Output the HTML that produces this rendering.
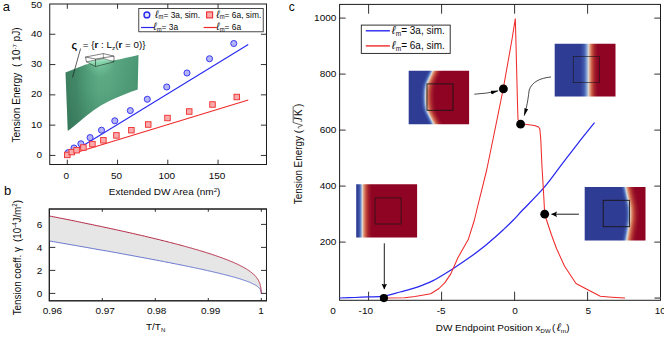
<!DOCTYPE html>
<html><head><meta charset="utf-8"><title>Figure</title>
<style>html,body{margin:0;padding:0;background:#fff;}body{width:664px;height:339px;overflow:hidden;font-family:"Liberation Sans",sans-serif;}svg{display:block;}</style>
</head><body>
<svg width="664" height="339" viewBox="0 0 664 339" font-family="Liberation Sans, sans-serif"><defs>
<linearGradient id="gsurf" gradientUnits="userSpaceOnUse" x1="65" y1="0" x2="139" y2="0">
<stop offset="0" stop-color="#3b7f5f"/>
<stop offset="0.15" stop-color="#448b6a"/>
<stop offset="0.3" stop-color="#52a07b"/>
<stop offset="0.45" stop-color="#5fae88"/>
<stop offset="0.6" stop-color="#5eac86"/>
<stop offset="0.8" stop-color="#54a17d"/>
<stop offset="1" stop-color="#4b9874"/>
</linearGradient>
<linearGradient id="gsurf2" gradientUnits="userSpaceOnUse" x1="0" y1="55" x2="0" y2="131">
<stop offset="0" stop-color="#2c6a4e" stop-opacity="0"/>
<stop offset="0.45" stop-color="#2c6a4e" stop-opacity="0.1"/>
<stop offset="1" stop-color="#2c6a4e" stop-opacity="0.45"/>
</linearGradient>
<radialGradient id="ghl" gradientUnits="userSpaceOnUse" cx="100" cy="62" r="15">
<stop offset="0" stop-color="#8fe0b6" stop-opacity="0.9"/>
<stop offset="0.4" stop-color="#7fd0a6" stop-opacity="0.45"/>
<stop offset="1" stop-color="#7fd0a6" stop-opacity="0"/>
</radialGradient>
</defs>
<path d="M65.5,72.5 L85.8,64.4 C95,62.6 105,61.6 114.3,60.3 C122,59 130,56.8 138.5,55 L137.7,89.5 C128,92.5 118,97 108.7,101.2 C98,106.5 88,114 79.5,121.5 C75,125.5 71,128.5 67.8,130.8 Z" fill="url(#gsurf)"/>
<path d="M65.5,72.5 L85.8,64.4 C95,62.6 105,61.6 114.3,60.3 C122,59 130,56.8 138.5,55 L137.7,89.5 C128,92.5 118,97 108.7,101.2 C98,106.5 88,114 79.5,121.5 C75,125.5 71,128.5 67.8,130.8 Z" fill="url(#gsurf2)"/>
<path d="M65.5,72.5 L85.8,64.4 C95,62.6 105,61.6 114.3,60.3 C122,59 130,56.8 138.5,55 L137.7,89.5 C128,92.5 118,97 108.7,101.2 C98,106.5 88,114 79.5,121.5 C75,125.5 71,128.5 67.8,130.8 Z" fill="url(#ghl)"/>
<path d="M86.4,61.8 L95.5,66.5 L114,61.8 L103.4,58.6 Z" fill="#84d4aa" fill-opacity="0.8"/>
<g fill="none" stroke="#1a1a1a" stroke-width="0.55"><path d="M85.5,57 L103.4,53.6 L114,56.1 L95.5,59 Z"/><path d="M85.5,57 L86.4,61.8 L95.5,66.5 L114,61.8 L114,56.1 M95.5,59 L95.5,66.5"/><path d="M103.4,53.6 L103.4,58.4 L86.4,61.8 M103.4,58.4 L114,61.8" stroke-width="0.4"/></g>
<path d="M80.6,48.5 L72.5,77.4" stroke="#1a1a1a" stroke-width="0.7" fill="none"/>
<text transform="translate(71.60 49.20) scale(1 0.92)" font-size="11" text-anchor="start" fill="#0a0a0a" font-weight="bold">ς</text>
<text transform="translate(82.80 48.20) scale(1 0.92)" font-size="9.8" text-anchor="start" fill="#0a0a0a" >= {<tspan font-weight="bold">r</tspan> : L<tspan font-size="6.5" dy="2">z</tspan><tspan dy="-2">(</tspan><tspan font-weight="bold">r</tspan> = 0)}</text>
<rect x="49.75" y="4.0" width="216.75" height="160.5" fill="none" stroke="#1c1c1c" stroke-width="1"/>
<path d="M49.75,155.45 h5.6 M266.5,155.45 h-5.6" stroke="#1c1c1c" stroke-width="0.9"/>
<path d="M49.75,125.14999999999999 h5.6 M266.5,125.14999999999999 h-5.6" stroke="#1c1c1c" stroke-width="0.9"/>
<path d="M49.75,94.85 h5.6 M266.5,94.85 h-5.6" stroke="#1c1c1c" stroke-width="0.9"/>
<path d="M49.75,64.55 h5.6 M266.5,64.55 h-5.6" stroke="#1c1c1c" stroke-width="0.9"/>
<path d="M49.75,34.25 h5.6 M266.5,34.25 h-5.6" stroke="#1c1c1c" stroke-width="0.9"/>
<text transform="translate(42.00 157.95) scale(1 0.92)" font-size="10" text-anchor="end" fill="#0a0a0a" >0</text>
<text transform="translate(42.00 127.65) scale(1 0.92)" font-size="10" text-anchor="end" fill="#0a0a0a" >10</text>
<text transform="translate(42.00 97.35) scale(1 0.92)" font-size="10" text-anchor="end" fill="#0a0a0a" >20</text>
<text transform="translate(42.00 67.05) scale(1 0.92)" font-size="10" text-anchor="end" fill="#0a0a0a" >30</text>
<text transform="translate(42.00 36.75) scale(1 0.92)" font-size="10" text-anchor="end" fill="#0a0a0a" >40</text>
<text transform="translate(42.00 8.25) scale(1 0.92)" font-size="10" text-anchor="end" fill="#0a0a0a" >50</text>
<path d="M67.3,4.0 v4.8 M67.3,164.5 v-4.8" stroke="#1c1c1c" stroke-width="0.9"/>
<text transform="translate(66.30 178.80) scale(1 0.92)" font-size="10" text-anchor="middle" fill="#0a0a0a" >0</text>
<path d="M117.54999999999998,4.0 v4.8 M117.54999999999998,164.5 v-4.8" stroke="#1c1c1c" stroke-width="0.9"/>
<text transform="translate(116.55 178.80) scale(1 0.92)" font-size="10" text-anchor="middle" fill="#0a0a0a" >50</text>
<path d="M167.79999999999998,4.0 v4.8 M167.79999999999998,164.5 v-4.8" stroke="#1c1c1c" stroke-width="0.9"/>
<text transform="translate(166.80 178.80) scale(1 0.92)" font-size="10" text-anchor="middle" fill="#0a0a0a" >100</text>
<path d="M218.04999999999995,4.0 v4.8 M218.04999999999995,164.5 v-4.8" stroke="#1c1c1c" stroke-width="0.9"/>
<text transform="translate(217.05 178.80) scale(1 0.92)" font-size="10" text-anchor="middle" fill="#0a0a0a" >150</text>
<path d="M67.3,155.2 L248.25,44.5" stroke="#2828f0" stroke-width="1.1" fill="none"/>
<path d="M67.3,155.2 L248.25,100" stroke="#f02a2a" stroke-width="1.1" fill="none"/>
<circle cx="68.3" cy="152.6" r="3.05" fill="#b4b4f6" stroke="#2828f0" stroke-width="0.9"/>
<circle cx="74.0" cy="148.0" r="3.05" fill="#b4b4f6" stroke="#2828f0" stroke-width="0.9"/>
<circle cx="80.9" cy="143.8" r="3.05" fill="#b4b4f6" stroke="#2828f0" stroke-width="0.9"/>
<circle cx="90.1" cy="137.6" r="3.05" fill="#b4b4f6" stroke="#2828f0" stroke-width="0.9"/>
<circle cx="101.5" cy="130.2" r="3.05" fill="#b4b4f6" stroke="#2828f0" stroke-width="0.9"/>
<circle cx="114.8" cy="120.8" r="3.05" fill="#b4b4f6" stroke="#2828f0" stroke-width="0.9"/>
<circle cx="130.3" cy="110.6" r="3.05" fill="#b4b4f6" stroke="#2828f0" stroke-width="0.9"/>
<circle cx="147.3" cy="99.25" r="3.05" fill="#b4b4f6" stroke="#2828f0" stroke-width="0.9"/>
<circle cx="166.75" cy="87" r="3.05" fill="#b4b4f6" stroke="#2828f0" stroke-width="0.9"/>
<circle cx="187" cy="73" r="3.05" fill="#b4b4f6" stroke="#2828f0" stroke-width="0.9"/>
<circle cx="209.5" cy="58.75" r="3.05" fill="#b4b4f6" stroke="#2828f0" stroke-width="0.9"/>
<circle cx="233.75" cy="43.5" r="3.05" fill="#b4b4f6" stroke="#2828f0" stroke-width="0.9"/>
<rect x="64.55" y="152.15" width="5.5" height="5.5" fill="#f9abab" stroke="#f02a2a" stroke-width="0.9"/>
<rect x="68.95" y="149.35" width="5.5" height="5.5" fill="#f9abab" stroke="#f02a2a" stroke-width="0.9"/>
<rect x="73.85" y="147.45" width="5.5" height="5.5" fill="#f9abab" stroke="#f02a2a" stroke-width="0.9"/>
<rect x="80.65" y="144.75" width="5.5" height="5.5" fill="#f9abab" stroke="#f02a2a" stroke-width="0.9"/>
<rect x="89.65" y="141.35" width="5.5" height="5.5" fill="#f9abab" stroke="#f02a2a" stroke-width="0.9"/>
<rect x="100.65" y="137.55" width="5.5" height="5.5" fill="#f9abab" stroke="#f02a2a" stroke-width="0.9"/>
<rect x="113.65" y="132.65" width="5.5" height="5.5" fill="#f9abab" stroke="#f02a2a" stroke-width="0.9"/>
<rect x="128.65" y="127.44999999999999" width="5.5" height="5.5" fill="#f9abab" stroke="#f02a2a" stroke-width="0.9"/>
<rect x="145.5" y="121.75" width="5.5" height="5.5" fill="#f9abab" stroke="#f02a2a" stroke-width="0.9"/>
<rect x="164.75" y="115.25" width="5.5" height="5.5" fill="#f9abab" stroke="#f02a2a" stroke-width="0.9"/>
<rect x="186.5" y="108.75" width="5.5" height="5.5" fill="#f9abab" stroke="#f02a2a" stroke-width="0.9"/>
<rect x="209.75" y="101.75" width="5.5" height="5.5" fill="#f9abab" stroke="#f02a2a" stroke-width="0.9"/>
<rect x="234.0" y="94.25" width="5.5" height="5.5" fill="#f9abab" stroke="#f02a2a" stroke-width="0.9"/>
<rect x="138.8" y="8.4" width="124.4" height="23.4" fill="#fff" stroke="#1c1c1c" stroke-width="0.8"/>
<circle cx="146.9" cy="14.9" r="2.9" fill="#e4e4fb" stroke="#2828f0" stroke-width="1.4"/>
<rect x="206.6" y="11.9" width="6" height="6" fill="#f9abab" stroke="#f02a2a" stroke-width="1.1"/>
<text transform="translate(155.30 17.50) scale(1 1.08)" font-size="8.4" text-anchor="start" fill="#0a0a0a" ><tspan font-style="italic" font-size="10.0">ℓ</tspan><tspan font-size="5.88" dy="1.8">m</tspan><tspan dy="-1.8">= 3a, sim.</tspan></text>
<text transform="translate(216.50 17.50) scale(1 1.08)" font-size="8.4" text-anchor="start" fill="#0a0a0a" ><tspan font-style="italic" font-size="10.0">ℓ</tspan><tspan font-size="5.88" dy="1.8">m</tspan><tspan dy="-1.8">= 6a, sim.</tspan></text>
<path d="M141,27.5 H153.8" stroke="#2828f0" stroke-width="1.2"/>
<path d="M203.6,27.5 H216.6" stroke="#f02a2a" stroke-width="1.2"/>
<text transform="translate(153.50 29.80) scale(1 1.08)" font-size="8.4" text-anchor="start" fill="#0a0a0a" ><tspan font-style="italic" font-size="10.0">ℓ</tspan><tspan font-size="5.88" dy="1.8">m</tspan><tspan dy="-1.8">= 3a</tspan></text>
<text transform="translate(216.50 29.80) scale(1 1.08)" font-size="8.4" text-anchor="start" fill="#0a0a0a" ><tspan font-style="italic" font-size="10.0">ℓ</tspan><tspan font-size="5.88" dy="1.8">m</tspan><tspan dy="-1.8">= 6a</tspan></text>
<text transform="translate(2.80 11.00) scale(1 1)" font-size="13" text-anchor="start" fill="#0a0a0a" >a</text>
<text transform="translate(108.80 195.10) scale(1 0.92)" font-size="10" text-anchor="start" fill="#0a0a0a" >Extended DW Area (nm<tspan font-size="6" dy="-3.5">2</tspan><tspan dy="3.5">)</tspan></text>
<text transform="translate(20.2,142.6) rotate(-90) scale(1 1.04)" font-size="10.15" xml:space="preserve" fill="#0a0a0a">Tension Energy  ( 10<tspan font-size="6" dy="-3.5">-7</tspan><tspan dy="3.5"> pJ)</tspan></text>
<rect x="49.3" y="209.0" width="217.2" height="91.80000000000001" fill="none" stroke="#1c1c1c" stroke-width="1"/>
<path d="M49.3,293.4 h6 M266.5,293.4 h-5.5" stroke="#1c1c1c" stroke-width="0.9"/>
<text transform="translate(42.40 297.20) scale(1 0.92)" font-size="10" text-anchor="end" fill="#0a0a0a" >0</text>
<path d="M49.3,270.4 h6 M266.5,270.4 h-5.5" stroke="#1c1c1c" stroke-width="0.9"/>
<text transform="translate(42.40 274.20) scale(1 0.92)" font-size="10" text-anchor="end" fill="#0a0a0a" >2</text>
<path d="M49.3,247.39999999999998 h6 M266.5,247.39999999999998 h-5.5" stroke="#1c1c1c" stroke-width="0.9"/>
<text transform="translate(42.40 251.20) scale(1 0.92)" font-size="10" text-anchor="end" fill="#0a0a0a" >4</text>
<path d="M49.3,224.39999999999998 h6 M266.5,224.39999999999998 h-5.5" stroke="#1c1c1c" stroke-width="0.9"/>
<text transform="translate(42.40 228.20) scale(1 0.92)" font-size="10" text-anchor="end" fill="#0a0a0a" >6</text>
<text transform="translate(52.40 313.70) scale(1 0.92)" font-size="10" text-anchor="middle" fill="#0a0a0a" >0.96</text>
<path d="M102.29999999999987,209.0 v2.8 M102.29999999999987,300.8 v-2.8" stroke="#1c1c1c" stroke-width="0.9"/>
<text transform="translate(105.10 313.70) scale(1 0.92)" font-size="10" text-anchor="middle" fill="#0a0a0a" >0.97</text>
<path d="M155.2999999999999,209.0 v2.8 M155.2999999999999,300.8 v-2.8" stroke="#1c1c1c" stroke-width="0.9"/>
<text transform="translate(156.70 313.70) scale(1 0.92)" font-size="10" text-anchor="middle" fill="#0a0a0a" >0.98</text>
<path d="M208.29999999999995,209.0 v2.8 M208.29999999999995,300.8 v-2.8" stroke="#1c1c1c" stroke-width="0.9"/>
<text transform="translate(210.70 313.70) scale(1 0.92)" font-size="10" text-anchor="middle" fill="#0a0a0a" >0.99</text>
<path d="M261.3,209.0 v2.8 M261.3,300.8 v-2.8" stroke="#1c1c1c" stroke-width="0.9"/>
<text transform="translate(261.00 313.70) scale(1 0.92)" font-size="10" text-anchor="middle" fill="#0a0a0a" >1</text>
<path d="M49.3,216.0 L51.4,216.4 L53.5,216.8 L55.6,217.2 L57.7,217.6 L59.7,218.0 L61.8,218.4 L63.8,218.8 L65.8,219.2 L67.8,219.6 L69.8,220.0 L71.8,220.4 L73.7,220.8 L75.7,221.2 L77.6,221.6 L79.5,222.0 L81.4,222.4 L83.3,222.8 L85.2,223.2 L87.1,223.6 L88.9,224.0 L90.8,224.3 L92.6,224.7 L94.4,225.1 L96.2,225.5 L98.0,225.9 L99.8,226.2 L101.5,226.6 L103.3,227.0 L105.0,227.4 L106.8,227.7 L108.5,228.1 L110.2,228.5 L111.8,228.8 L113.5,229.2 L115.2,229.5 L116.8,229.9 L118.5,230.3 L120.1,230.6 L121.7,231.0 L123.3,231.3 L124.9,231.7 L126.5,232.0 L128.0,232.4 L129.6,232.7 L131.1,233.1 L132.6,233.4 L134.1,233.8 L135.6,234.1 L137.1,234.5 L138.6,234.8 L140.1,235.1 L141.5,235.5 L143.0,235.8 L144.4,236.1 L145.8,236.5 L147.2,236.8 L148.6,237.1 L150.0,237.5 L151.4,237.8 L152.8,238.1 L154.1,238.5 L155.4,238.8 L156.8,239.1 L158.1,239.4 L159.4,239.7 L160.7,240.1 L162.0,240.4 L163.3,240.7 L164.5,241.0 L165.8,241.3 L167.0,241.6 L168.2,242.0 L169.5,242.3 L170.7,242.6 L171.9,242.9 L173.0,243.2 L174.2,243.5 L175.4,243.8 L176.5,244.1 L177.7,244.4 L178.8,244.7 L180.0,245.0 L181.1,245.3 L182.2,245.6 L183.3,245.9 L184.3,246.2 L185.4,246.5 L186.5,246.8 L187.5,247.1 L188.6,247.4 L189.6,247.7 L190.6,247.9 L191.7,248.2 L192.7,248.5 L193.7,248.8 L194.6,249.1 L195.6,249.4 L196.6,249.6 L197.5,249.9 L198.5,250.2 L199.4,250.5 L200.4,250.8 L201.3,251.0 L202.2,251.3 L203.1,251.6 L204.0,251.9 L204.9,252.1 L205.7,252.4 L206.6,252.7 L207.4,253.0 L208.3,253.2 L209.1,253.5 L210.0,253.8 L210.8,254.0 L211.6,254.3 L212.4,254.6 L213.2,254.8 L214.0,255.1 L214.7,255.3 L215.5,255.6 L216.3,255.9 L217.0,256.1 L217.8,256.4 L218.5,256.6 L219.2,256.9 L219.9,257.1 L220.6,257.4 L221.3,257.6 L222.0,257.9 L222.7,258.2 L223.4,258.4 L224.1,258.7 L224.7,258.9 L225.4,259.2 L226.0,259.4 L226.7,259.6 L227.3,259.9 L227.9,260.1 L228.5,260.4 L229.1,260.6 L229.7,260.9 L230.3,261.1 L230.9,261.4 L231.5,261.6 L232.1,261.8 L232.6,262.1 L233.2,262.3 L233.7,262.5 L234.3,262.8 L234.8,263.0 L235.3,263.3 L235.8,263.5 L236.4,263.7 L236.9,264.0 L237.4,264.2 L237.9,264.4 L238.3,264.7 L238.8,264.9 L239.3,265.1 L239.8,265.4 L240.2,265.6 L240.7,265.8 L241.1,266.0 L241.5,266.3 L242.0,266.5 L242.4,266.7 L242.8,267.0 L243.2,267.2 L243.6,267.4 L244.0,267.6 L244.4,267.9 L244.8,268.1 L245.2,268.3 L245.6,268.5 L246.0,268.7 L246.3,269.0 L246.7,269.2 L247.0,269.4 L247.4,269.6 L247.7,269.9 L248.1,270.1 L248.4,270.3 L248.7,270.5 L249.0,270.7 L249.4,271.0 L249.7,271.2 L250.0,271.4 L250.3,271.6 L250.6,271.8 L250.8,272.0 L251.1,272.3 L251.4,272.5 L251.7,272.7 L251.9,272.9 L252.2,273.1 L252.5,273.3 L252.7,273.6 L253.0,273.8 L253.2,274.0 L253.4,274.2 L253.7,274.4 L253.9,274.6 L254.1,274.9 L254.4,275.1 L254.6,275.3 L254.8,275.5 L255.0,275.7 L255.2,275.9 L255.4,276.2 L255.6,276.4 L255.8,276.6 L255.9,276.8 L256.1,277.0 L256.3,277.2 L256.5,277.5 L256.6,277.7 L256.8,277.9 L257.0,278.1 L257.1,278.3 L257.3,278.5 L257.4,278.8 L257.6,279.0 L257.7,279.2 L257.9,279.4 L258.0,279.6 L258.1,279.9 L258.2,280.1 L258.4,280.3 L258.5,280.5 L258.6,280.7 L258.7,281.0 L258.8,281.2 L258.9,281.4 L259.0,281.6 L259.1,281.9 L259.2,282.1 L259.3,282.3 L259.4,282.5 L259.5,282.8 L259.6,283.0 L259.7,283.2 L259.8,283.4 L259.8,283.7 L259.9,283.9 L260.0,284.1 L260.1,284.4 L260.1,284.6 L260.2,284.8 L260.3,285.1 L260.3,285.3 L260.4,285.5 L260.4,285.8 L260.5,286.0 L260.5,286.2 L260.6,286.5 L260.6,286.7 L260.7,286.9 L260.7,287.2 L260.8,287.4 L260.8,287.6 L260.8,287.9 L260.9,288.1 L260.9,288.3 L260.9,288.6 L261.0,288.8 L261.0,289.0 L261.0,289.3 L261.0,289.5 L261.1,289.7 L261.1,290.0 L261.1,290.2 L261.1,290.4 L261.1,290.6 L261.2,290.8 L261.2,291.1 L261.2,291.3 L261.2,291.5 L261.2,291.7 L261.2,291.8 L261.2,292.0 L261.2,292.2 L261.3,292.4 L261.3,292.5 L261.3,292.7 L261.3,292.8 L261.3,292.9 L261.3,293.0 L261.3,293.1 L261.3,293.2 L261.3,293.2 L261.3,293.2 L261.3,293.3 L261.3,293.3 L261.3,293.3 L261.3,293.3 L261.3,293.3 L261.3,293.4 L261.3,293.4 L261.3,293.4 L261.3,293.4 L261.3,293.4 L261.3,293.4 L261.3,293.4 L261.3,293.4 L261.3,293.4 L261.3,293.4 L261.3,293.3 L261.3,293.3 L261.3,293.3 L261.3,293.3 L261.3,293.3 L261.3,293.3 L261.3,293.2 L261.3,293.2 L261.3,293.1 L261.3,293.1 L261.3,293.0 L261.3,292.9 L261.3,292.8 L261.2,292.8 L261.2,292.7 L261.2,292.6 L261.2,292.5 L261.2,292.4 L261.2,292.3 L261.2,292.2 L261.2,292.1 L261.1,292.0 L261.1,291.9 L261.1,291.8 L261.1,291.7 L261.1,291.6 L261.0,291.5 L261.0,291.4 L261.0,291.3 L261.0,291.2 L260.9,291.1 L260.9,291.0 L260.9,290.9 L260.8,290.8 L260.8,290.6 L260.8,290.5 L260.7,290.4 L260.7,290.3 L260.6,290.2 L260.6,290.1 L260.5,290.0 L260.5,289.9 L260.4,289.8 L260.4,289.7 L260.3,289.6 L260.3,289.5 L260.2,289.4 L260.1,289.2 L260.1,289.1 L260.0,289.0 L259.9,288.9 L259.8,288.8 L259.8,288.7 L259.7,288.6 L259.6,288.5 L259.5,288.4 L259.4,288.3 L259.3,288.2 L259.2,288.1 L259.1,287.9 L259.0,287.8 L258.9,287.7 L258.8,287.6 L258.7,287.5 L258.6,287.4 L258.5,287.3 L258.4,287.2 L258.2,287.1 L258.1,287.0 L258.0,286.9 L257.9,286.8 L257.7,286.6 L257.6,286.5 L257.4,286.4 L257.3,286.3 L257.1,286.2 L257.0,286.1 L256.8,286.0 L256.6,285.9 L256.5,285.8 L256.3,285.6 L256.1,285.5 L255.9,285.4 L255.8,285.3 L255.6,285.2 L255.4,285.1 L255.2,285.0 L255.0,284.8 L254.8,284.7 L254.6,284.6 L254.4,284.5 L254.1,284.4 L253.9,284.3 L253.7,284.1 L253.4,284.0 L253.2,283.9 L253.0,283.8 L252.7,283.7 L252.5,283.6 L252.2,283.4 L251.9,283.3 L251.7,283.2 L251.4,283.1 L251.1,282.9 L250.8,282.8 L250.6,282.7 L250.3,282.6 L250.0,282.5 L249.7,282.3 L249.4,282.2 L249.0,282.1 L248.7,281.9 L248.4,281.8 L248.1,281.7 L247.7,281.6 L247.4,281.4 L247.0,281.3 L246.7,281.2 L246.3,281.0 L246.0,280.9 L245.6,280.8 L245.2,280.6 L244.8,280.5 L244.4,280.4 L244.0,280.2 L243.6,280.1 L243.2,280.0 L242.8,279.8 L242.4,279.7 L242.0,279.6 L241.5,279.4 L241.1,279.3 L240.7,279.1 L240.2,279.0 L239.8,278.8 L239.3,278.7 L238.8,278.6 L238.3,278.4 L237.9,278.3 L237.4,278.1 L236.9,278.0 L236.4,277.8 L235.8,277.7 L235.3,277.5 L234.8,277.4 L234.3,277.2 L233.7,277.1 L233.2,276.9 L232.6,276.8 L232.1,276.6 L231.5,276.5 L230.9,276.3 L230.3,276.1 L229.7,276.0 L229.1,275.8 L228.5,275.7 L227.9,275.5 L227.3,275.3 L226.7,275.2 L226.0,275.0 L225.4,274.8 L224.7,274.7 L224.1,274.5 L223.4,274.3 L222.7,274.2 L222.0,274.0 L221.3,273.8 L220.6,273.7 L219.9,273.5 L219.2,273.3 L218.5,273.1 L217.8,273.0 L217.0,272.8 L216.3,272.6 L215.5,272.4 L214.7,272.3 L214.0,272.1 L213.2,271.9 L212.4,271.7 L211.6,271.5 L210.8,271.3 L210.0,271.1 L209.1,271.0 L208.3,270.8 L207.4,270.6 L206.6,270.4 L205.7,270.2 L204.9,270.0 L204.0,269.8 L203.1,269.6 L202.2,269.4 L201.3,269.2 L200.4,269.0 L199.4,268.8 L198.5,268.6 L197.5,268.4 L196.6,268.2 L195.6,268.0 L194.6,267.8 L193.7,267.6 L192.7,267.4 L191.7,267.2 L190.6,267.0 L189.6,266.7 L188.6,266.5 L187.5,266.3 L186.5,266.1 L185.4,265.9 L184.3,265.7 L183.3,265.4 L182.2,265.2 L181.1,265.0 L180.0,264.8 L178.8,264.5 L177.7,264.3 L176.5,264.1 L175.4,263.9 L174.2,263.6 L173.0,263.4 L171.9,263.2 L170.7,262.9 L169.5,262.7 L168.2,262.4 L167.0,262.2 L165.8,262.0 L164.5,261.7 L163.3,261.5 L162.0,261.2 L160.7,261.0 L159.4,260.7 L158.1,260.5 L156.8,260.2 L155.4,260.0 L154.1,259.7 L152.8,259.5 L151.4,259.2 L150.0,259.0 L148.6,258.7 L147.2,258.4 L145.8,258.2 L144.4,257.9 L143.0,257.6 L141.5,257.4 L140.1,257.1 L138.6,256.8 L137.1,256.5 L135.6,256.3 L134.1,256.0 L132.6,255.7 L131.1,255.4 L129.6,255.2 L128.0,254.9 L126.5,254.6 L124.9,254.3 L123.3,254.0 L121.7,253.7 L120.1,253.4 L118.5,253.1 L116.8,252.8 L115.2,252.5 L113.5,252.2 L111.8,251.9 L110.2,251.6 L108.5,251.3 L106.8,251.0 L105.0,250.7 L103.3,250.4 L101.5,250.1 L99.8,249.8 L98.0,249.5 L96.2,249.2 L94.4,248.8 L92.6,248.5 L90.8,248.2 L88.9,247.9 L87.1,247.5 L85.2,247.2 L83.3,246.9 L81.4,246.5 L79.5,246.2 L77.6,245.9 L75.7,245.5 L73.7,245.2 L71.8,244.9 L69.8,244.5 L67.8,244.2 L65.8,243.8 L63.8,243.5 L61.8,243.1 L59.7,242.8 L57.7,242.4 L55.6,242.0 L53.5,241.7 L51.4,241.3 L49.3,241.0 Z" fill="#e6e6e6"/>
<path d="M49.3,241.0 L51.4,241.3 L53.5,241.7 L55.6,242.0 L57.7,242.4 L59.7,242.8 L61.8,243.1 L63.8,243.5 L65.8,243.8 L67.8,244.2 L69.8,244.5 L71.8,244.9 L73.7,245.2 L75.7,245.5 L77.6,245.9 L79.5,246.2 L81.4,246.5 L83.3,246.9 L85.2,247.2 L87.1,247.5 L88.9,247.9 L90.8,248.2 L92.6,248.5 L94.4,248.8 L96.2,249.2 L98.0,249.5 L99.8,249.8 L101.5,250.1 L103.3,250.4 L105.0,250.7 L106.8,251.0 L108.5,251.3 L110.2,251.6 L111.8,251.9 L113.5,252.2 L115.2,252.5 L116.8,252.8 L118.5,253.1 L120.1,253.4 L121.7,253.7 L123.3,254.0 L124.9,254.3 L126.5,254.6 L128.0,254.9 L129.6,255.2 L131.1,255.4 L132.6,255.7 L134.1,256.0 L135.6,256.3 L137.1,256.5 L138.6,256.8 L140.1,257.1 L141.5,257.4 L143.0,257.6 L144.4,257.9 L145.8,258.2 L147.2,258.4 L148.6,258.7 L150.0,259.0 L151.4,259.2 L152.8,259.5 L154.1,259.7 L155.4,260.0 L156.8,260.2 L158.1,260.5 L159.4,260.7 L160.7,261.0 L162.0,261.2 L163.3,261.5 L164.5,261.7 L165.8,262.0 L167.0,262.2 L168.2,262.4 L169.5,262.7 L170.7,262.9 L171.9,263.2 L173.0,263.4 L174.2,263.6 L175.4,263.9 L176.5,264.1 L177.7,264.3 L178.8,264.5 L180.0,264.8 L181.1,265.0 L182.2,265.2 L183.3,265.4 L184.3,265.7 L185.4,265.9 L186.5,266.1 L187.5,266.3 L188.6,266.5 L189.6,266.7 L190.6,267.0 L191.7,267.2 L192.7,267.4 L193.7,267.6 L194.6,267.8 L195.6,268.0 L196.6,268.2 L197.5,268.4 L198.5,268.6 L199.4,268.8 L200.4,269.0 L201.3,269.2 L202.2,269.4 L203.1,269.6 L204.0,269.8 L204.9,270.0 L205.7,270.2 L206.6,270.4 L207.4,270.6 L208.3,270.8 L209.1,271.0 L210.0,271.1 L210.8,271.3 L211.6,271.5 L212.4,271.7 L213.2,271.9 L214.0,272.1 L214.7,272.3 L215.5,272.4 L216.3,272.6 L217.0,272.8 L217.8,273.0 L218.5,273.1 L219.2,273.3 L219.9,273.5 L220.6,273.7 L221.3,273.8 L222.0,274.0 L222.7,274.2 L223.4,274.3 L224.1,274.5 L224.7,274.7 L225.4,274.8 L226.0,275.0 L226.7,275.2 L227.3,275.3 L227.9,275.5 L228.5,275.7 L229.1,275.8 L229.7,276.0 L230.3,276.1 L230.9,276.3 L231.5,276.5 L232.1,276.6 L232.6,276.8 L233.2,276.9 L233.7,277.1 L234.3,277.2 L234.8,277.4 L235.3,277.5 L235.8,277.7 L236.4,277.8 L236.9,278.0 L237.4,278.1 L237.9,278.3 L238.3,278.4 L238.8,278.6 L239.3,278.7 L239.8,278.8 L240.2,279.0 L240.7,279.1 L241.1,279.3 L241.5,279.4 L242.0,279.6 L242.4,279.7 L242.8,279.8 L243.2,280.0 L243.6,280.1 L244.0,280.2 L244.4,280.4 L244.8,280.5 L245.2,280.6 L245.6,280.8 L246.0,280.9 L246.3,281.0 L246.7,281.2 L247.0,281.3 L247.4,281.4 L247.7,281.6 L248.1,281.7 L248.4,281.8 L248.7,281.9 L249.0,282.1 L249.4,282.2 L249.7,282.3 L250.0,282.5 L250.3,282.6 L250.6,282.7 L250.8,282.8 L251.1,282.9 L251.4,283.1 L251.7,283.2 L251.9,283.3 L252.2,283.4 L252.5,283.6 L252.7,283.7 L253.0,283.8 L253.2,283.9 L253.4,284.0 L253.7,284.1 L253.9,284.3 L254.1,284.4 L254.4,284.5 L254.6,284.6 L254.8,284.7 L255.0,284.8 L255.2,285.0 L255.4,285.1 L255.6,285.2 L255.8,285.3 L255.9,285.4 L256.1,285.5 L256.3,285.6 L256.5,285.8 L256.6,285.9 L256.8,286.0 L257.0,286.1 L257.1,286.2 L257.3,286.3 L257.4,286.4 L257.6,286.5 L257.7,286.6 L257.9,286.8 L258.0,286.9 L258.1,287.0 L258.2,287.1 L258.4,287.2 L258.5,287.3 L258.6,287.4 L258.7,287.5 L258.8,287.6 L258.9,287.7 L259.0,287.8 L259.1,287.9 L259.2,288.1 L259.3,288.2 L259.4,288.3 L259.5,288.4 L259.6,288.5 L259.7,288.6 L259.8,288.7 L259.8,288.8 L259.9,288.9 L260.0,289.0 L260.1,289.1 L260.1,289.2 L260.2,289.4 L260.3,289.5 L260.3,289.6 L260.4,289.7 L260.4,289.8 L260.5,289.9 L260.5,290.0 L260.6,290.1 L260.6,290.2 L260.7,290.3 L260.7,290.4 L260.8,290.5 L260.8,290.6 L260.8,290.8 L260.9,290.9 L260.9,291.0 L260.9,291.1 L261.0,291.2 L261.0,291.3 L261.0,291.4 L261.0,291.5 L261.1,291.6 L261.1,291.7 L261.1,291.8 L261.1,291.9 L261.1,292.0 L261.2,292.1 L261.2,292.2 L261.2,292.3 L261.2,292.4 L261.2,292.5 L261.2,292.6 L261.2,292.7 L261.2,292.8 L261.3,292.8 L261.3,292.9 L261.3,293.0 L261.3,293.1 L261.3,293.1 L261.3,293.2 L261.3,293.2 L261.3,293.3 L261.3,293.3 L261.3,293.3 L261.3,293.3 L261.3,293.3 L261.3,293.3 L261.3,293.4 L261.3,293.4 L261.3,293.4 L261.3,293.4 L261.3,293.4 L261.3,293.4" fill="none" stroke="#4456c4" stroke-width="0.8"/>
<path d="M49.3,216.0 L51.4,216.4 L53.5,216.8 L55.6,217.2 L57.7,217.6 L59.7,218.0 L61.8,218.4 L63.8,218.8 L65.8,219.2 L67.8,219.6 L69.8,220.0 L71.8,220.4 L73.7,220.8 L75.7,221.2 L77.6,221.6 L79.5,222.0 L81.4,222.4 L83.3,222.8 L85.2,223.2 L87.1,223.6 L88.9,224.0 L90.8,224.3 L92.6,224.7 L94.4,225.1 L96.2,225.5 L98.0,225.9 L99.8,226.2 L101.5,226.6 L103.3,227.0 L105.0,227.4 L106.8,227.7 L108.5,228.1 L110.2,228.5 L111.8,228.8 L113.5,229.2 L115.2,229.5 L116.8,229.9 L118.5,230.3 L120.1,230.6 L121.7,231.0 L123.3,231.3 L124.9,231.7 L126.5,232.0 L128.0,232.4 L129.6,232.7 L131.1,233.1 L132.6,233.4 L134.1,233.8 L135.6,234.1 L137.1,234.5 L138.6,234.8 L140.1,235.1 L141.5,235.5 L143.0,235.8 L144.4,236.1 L145.8,236.5 L147.2,236.8 L148.6,237.1 L150.0,237.5 L151.4,237.8 L152.8,238.1 L154.1,238.5 L155.4,238.8 L156.8,239.1 L158.1,239.4 L159.4,239.7 L160.7,240.1 L162.0,240.4 L163.3,240.7 L164.5,241.0 L165.8,241.3 L167.0,241.6 L168.2,242.0 L169.5,242.3 L170.7,242.6 L171.9,242.9 L173.0,243.2 L174.2,243.5 L175.4,243.8 L176.5,244.1 L177.7,244.4 L178.8,244.7 L180.0,245.0 L181.1,245.3 L182.2,245.6 L183.3,245.9 L184.3,246.2 L185.4,246.5 L186.5,246.8 L187.5,247.1 L188.6,247.4 L189.6,247.7 L190.6,247.9 L191.7,248.2 L192.7,248.5 L193.7,248.8 L194.6,249.1 L195.6,249.4 L196.6,249.6 L197.5,249.9 L198.5,250.2 L199.4,250.5 L200.4,250.8 L201.3,251.0 L202.2,251.3 L203.1,251.6 L204.0,251.9 L204.9,252.1 L205.7,252.4 L206.6,252.7 L207.4,253.0 L208.3,253.2 L209.1,253.5 L210.0,253.8 L210.8,254.0 L211.6,254.3 L212.4,254.6 L213.2,254.8 L214.0,255.1 L214.7,255.3 L215.5,255.6 L216.3,255.9 L217.0,256.1 L217.8,256.4 L218.5,256.6 L219.2,256.9 L219.9,257.1 L220.6,257.4 L221.3,257.6 L222.0,257.9 L222.7,258.2 L223.4,258.4 L224.1,258.7 L224.7,258.9 L225.4,259.2 L226.0,259.4 L226.7,259.6 L227.3,259.9 L227.9,260.1 L228.5,260.4 L229.1,260.6 L229.7,260.9 L230.3,261.1 L230.9,261.4 L231.5,261.6 L232.1,261.8 L232.6,262.1 L233.2,262.3 L233.7,262.5 L234.3,262.8 L234.8,263.0 L235.3,263.3 L235.8,263.5 L236.4,263.7 L236.9,264.0 L237.4,264.2 L237.9,264.4 L238.3,264.7 L238.8,264.9 L239.3,265.1 L239.8,265.4 L240.2,265.6 L240.7,265.8 L241.1,266.0 L241.5,266.3 L242.0,266.5 L242.4,266.7 L242.8,267.0 L243.2,267.2 L243.6,267.4 L244.0,267.6 L244.4,267.9 L244.8,268.1 L245.2,268.3 L245.6,268.5 L246.0,268.7 L246.3,269.0 L246.7,269.2 L247.0,269.4 L247.4,269.6 L247.7,269.9 L248.1,270.1 L248.4,270.3 L248.7,270.5 L249.0,270.7 L249.4,271.0 L249.7,271.2 L250.0,271.4 L250.3,271.6 L250.6,271.8 L250.8,272.0 L251.1,272.3 L251.4,272.5 L251.7,272.7 L251.9,272.9 L252.2,273.1 L252.5,273.3 L252.7,273.6 L253.0,273.8 L253.2,274.0 L253.4,274.2 L253.7,274.4 L253.9,274.6 L254.1,274.9 L254.4,275.1 L254.6,275.3 L254.8,275.5 L255.0,275.7 L255.2,275.9 L255.4,276.2 L255.6,276.4 L255.8,276.6 L255.9,276.8 L256.1,277.0 L256.3,277.2 L256.5,277.5 L256.6,277.7 L256.8,277.9 L257.0,278.1 L257.1,278.3 L257.3,278.5 L257.4,278.8 L257.6,279.0 L257.7,279.2 L257.9,279.4 L258.0,279.6 L258.1,279.9 L258.2,280.1 L258.4,280.3 L258.5,280.5 L258.6,280.7 L258.7,281.0 L258.8,281.2 L258.9,281.4 L259.0,281.6 L259.1,281.9 L259.2,282.1 L259.3,282.3 L259.4,282.5 L259.5,282.8 L259.6,283.0 L259.7,283.2 L259.8,283.4 L259.8,283.7 L259.9,283.9 L260.0,284.1 L260.1,284.4 L260.1,284.6 L260.2,284.8 L260.3,285.1 L260.3,285.3 L260.4,285.5 L260.4,285.8 L260.5,286.0 L260.5,286.2 L260.6,286.5 L260.6,286.7 L260.7,286.9 L260.7,287.2 L260.8,287.4 L260.8,287.6 L260.8,287.9 L260.9,288.1 L260.9,288.3 L260.9,288.6 L261.0,288.8 L261.0,289.0 L261.0,289.3 L261.0,289.5 L261.1,289.7 L261.1,290.0 L261.1,290.2 L261.1,290.4 L261.1,290.6 L261.2,290.8 L261.2,291.1 L261.2,291.3 L261.2,291.5 L261.2,291.7 L261.2,291.8 L261.2,292.0 L261.2,292.2 L261.3,292.4 L261.3,292.5 L261.3,292.7 L261.3,292.8 L261.3,292.9 L261.3,293.0 L261.3,293.1 L261.3,293.2 L261.3,293.2 L261.3,293.2 L261.3,293.3 L261.3,293.3 L261.3,293.3 L261.3,293.3 L261.3,293.3 L261.3,293.4 L261.3,293.4 L261.3,293.4 L261.3,293.4" fill="none" stroke="#b01c3a" stroke-width="0.95"/>
<rect x="49.3" y="209.0" width="217.2" height="91.80000000000001" fill="none" stroke="#1c1c1c" stroke-width="1"/>
<text transform="translate(4.00 194.90) scale(1 1)" font-size="13" text-anchor="start" fill="#0a0a0a" >b</text>
<text transform="translate(146.00 330.00) scale(1 0.92)" font-size="10" text-anchor="start" fill="#0a0a0a" >T/T<tspan font-size="6" dy="2">N</tspan></text>
<text transform="translate(20.7,315.3) rotate(-90) scale(1 1.07)" font-size="9.85" xml:space="preserve" fill="#0a0a0a">Tension coeff. γ <tspan dx="2.3">(10</tspan><tspan font-size="6" dy="-3.5">-4</tspan><tspan dy="3.5">J/m</tspan><tspan font-size="6" dy="-3.5">2</tspan><tspan dy="3.5">)</tspan></text>
<rect x="339.6" y="4.4" width="320.9" height="295.90000000000003" fill="none" stroke="#1c1c1c" stroke-width="1"/>
<path d="M660.5,298.1 h-6" stroke="#777" stroke-width="1.6"/>
<path d="M339.6,242.10000000000002 h6 M660.5,242.10000000000002 h-6.2" stroke="#1c1c1c" stroke-width="0.9"/>
<text transform="translate(336.30 244.80) scale(1 0.92)" font-size="10" text-anchor="end" fill="#0a0a0a" >200</text>
<path d="M339.6,186.10000000000002 h6 M660.5,186.10000000000002 h-6.2" stroke="#1c1c1c" stroke-width="0.9"/>
<text transform="translate(336.30 188.80) scale(1 0.92)" font-size="10" text-anchor="end" fill="#0a0a0a" >400</text>
<path d="M339.6,130.1 h6 M660.5,130.1 h-6.2" stroke="#1c1c1c" stroke-width="0.9"/>
<text transform="translate(336.30 132.80) scale(1 0.92)" font-size="10" text-anchor="end" fill="#0a0a0a" >600</text>
<path d="M339.6,74.1 h6 M660.5,74.1 h-6.2" stroke="#1c1c1c" stroke-width="0.9"/>
<text transform="translate(336.30 76.80) scale(1 0.92)" font-size="10" text-anchor="end" fill="#0a0a0a" >800</text>
<path d="M339.6,18.100000000000023 h6 M660.5,18.100000000000023 h-6.2" stroke="#1c1c1c" stroke-width="0.9"/>
<text transform="translate(336.30 20.80) scale(1 0.92)" font-size="10" text-anchor="end" fill="#0a0a0a" >1000</text>
<text transform="translate(335.90 313.60) scale(1 0.92)" font-size="10" text-anchor="end" fill="#0a0a0a" >0</text>
<path d="M368.6,4.4 v9.3 M368.6,300.3 v-8.6" stroke="#1c1c1c" stroke-width="0.9"/>
<path d="M441.6,4.4 v9.3 M441.6,300.3 v-8.6" stroke="#1c1c1c" stroke-width="0.9"/>
<path d="M514.6,4.4 v9.3 M514.6,300.3 v-8.6" stroke="#1c1c1c" stroke-width="0.9"/>
<path d="M587.6,4.4 v9.3 M587.6,300.3 v-8.6" stroke="#1c1c1c" stroke-width="0.9"/>
<text transform="translate(365.80 313.60) scale(1 0.92)" font-size="10" text-anchor="middle" fill="#0a0a0a" >-10</text>
<text transform="translate(441.10 313.60) scale(1 0.92)" font-size="10" text-anchor="middle" fill="#0a0a0a" >-5</text>
<text transform="translate(515.00 313.60) scale(1 0.92)" font-size="10" text-anchor="middle" fill="#0a0a0a" >0</text>
<text transform="translate(588.20 313.60) scale(1 0.92)" font-size="10" text-anchor="middle" fill="#0a0a0a" >5</text>
<text transform="translate(660.20 313.60) scale(1 0.92)" font-size="10" text-anchor="middle" fill="#0a0a0a" >10</text>
<defs><linearGradient id="wg" gradientUnits="userSpaceOnUse" x1="-10" y1="0" x2="10" y2="0"><stop offset="0.075" stop-color="#2f3c93"/><stop offset="0.215" stop-color="#3a4fa3"/><stop offset="0.310" stop-color="#4f6db8"/><stop offset="0.385" stop-color="#7d9bd0"/><stop offset="0.460" stop-color="#b9c6de"/><stop offset="0.500" stop-color="#e2d8cd"/><stop offset="0.540" stop-color="#e2b198"/><stop offset="0.615" stop-color="#d4775c"/><stop offset="0.690" stop-color="#c04a3c"/><stop offset="0.785" stop-color="#a8242c"/><stop offset="0.875" stop-color="#97102a"/><stop offset="0.970" stop-color="#8e0422"/></linearGradient><linearGradient id="wgb" gradientUnits="userSpaceOnUse" x1="-10" y1="0" x2="10" y2="0"><stop offset="0.245" stop-color="#2f3c93"/><stop offset="0.329" stop-color="#3a4fa3"/><stop offset="0.386" stop-color="#4f6db8"/><stop offset="0.431" stop-color="#7d9bd0"/><stop offset="0.476" stop-color="#b9c6de"/><stop offset="0.500" stop-color="#e2d8cd"/><stop offset="0.540" stop-color="#e2b198"/><stop offset="0.615" stop-color="#d4775c"/><stop offset="0.690" stop-color="#c04a3c"/><stop offset="0.785" stop-color="#a8242c"/><stop offset="0.875" stop-color="#97102a"/><stop offset="0.970" stop-color="#8e0422"/></linearGradient><rect id="st" x="-90" y="0" width="180" height="1.03" fill="url(#wg)"/><rect id="stb" x="-90" y="0" width="180" height="1.03" fill="url(#wgb)"/></defs>
<clipPath id="clip1"><rect x="408.7" y="70.7" width="60.400000000000034" height="53.5"/></clipPath>
<g clip-path="url(#clip1)">
<use href="#stb" x="432.99" y="70"/><use href="#stb" x="432.53" y="71"/><use href="#stb" x="432.07" y="72"/><use href="#stb" x="431.61" y="73"/><use href="#stb" x="431.16" y="74"/><use href="#stb" x="430.70" y="75"/><use href="#stb" x="430.25" y="76"/><use href="#stb" x="429.80" y="77"/><use href="#stb" x="429.36" y="78"/><use href="#stb" x="428.92" y="79"/><use href="#stb" x="428.48" y="80"/><use href="#stb" x="428.05" y="81"/><use href="#stb" x="427.63" y="82"/><use href="#stb" x="427.25" y="83"/><use href="#stb" x="426.95" y="84"/><use href="#stb" x="426.72" y="85"/><use href="#stb" x="426.53" y="86"/><use href="#stb" x="426.35" y="87"/><use href="#stb" x="426.18" y="88"/><use href="#stb" x="426.03" y="89"/><use href="#stb" x="425.93" y="90"/><use href="#stb" x="425.87" y="91"/><use href="#stb" x="425.83" y="92"/><use href="#stb" x="425.80" y="93"/><use href="#stb" x="425.77" y="94"/><use href="#stb" x="425.75" y="95"/><use href="#stb" x="425.73" y="96"/><use href="#stb" x="425.74" y="97"/><use href="#stb" x="425.76" y="98"/><use href="#stb" x="425.80" y="99"/><use href="#stb" x="425.85" y="100"/><use href="#stb" x="425.89" y="101"/><use href="#stb" x="425.94" y="102"/><use href="#stb" x="426.01" y="103"/><use href="#stb" x="426.12" y="104"/><use href="#stb" x="426.26" y="105"/><use href="#stb" x="426.42" y="106"/><use href="#stb" x="426.59" y="107"/><use href="#stb" x="426.76" y="108"/><use href="#stb" x="426.97" y="109"/><use href="#stb" x="427.24" y="110"/><use href="#stb" x="427.62" y="111"/><use href="#stb" x="428.07" y="112"/><use href="#stb" x="428.55" y="113"/><use href="#stb" x="429.04" y="114"/><use href="#stb" x="429.52" y="115"/><use href="#stb" x="430.00" y="116"/><use href="#stb" x="430.49" y="117"/><use href="#stb" x="430.98" y="118"/><use href="#stb" x="431.46" y="119"/><use href="#stb" x="431.95" y="120"/><use href="#stb" x="432.44" y="121"/><use href="#stb" x="432.92" y="122"/><use href="#stb" x="433.41" y="123"/><use href="#stb" x="433.89" y="124"/>
</g>
<rect x="427" y="83.9" width="26" height="26.39999999999999" fill="none" stroke="#1a1418" stroke-width="0.9"/>
<clipPath id="clip2"><rect x="554.7" y="43.7" width="60.799999999999955" height="52.8"/></clipPath>
<g clip-path="url(#clip2)">
<use href="#st" x="588.70" y="43"/><use href="#st" x="588.70" y="44"/><use href="#st" x="588.70" y="45"/><use href="#st" x="588.70" y="46"/><use href="#st" x="588.70" y="47"/><use href="#st" x="588.70" y="48"/><use href="#st" x="588.70" y="49"/><use href="#st" x="588.70" y="50"/><use href="#st" x="588.70" y="51"/><use href="#st" x="588.70" y="52"/><use href="#st" x="588.70" y="53"/><use href="#st" x="588.70" y="54"/><use href="#st" x="588.70" y="55"/><use href="#st" x="588.70" y="56"/><use href="#st" x="588.70" y="57"/><use href="#st" x="588.70" y="58"/><use href="#st" x="588.70" y="59"/><use href="#st" x="588.70" y="60"/><use href="#st" x="588.70" y="61"/><use href="#st" x="588.70" y="62"/><use href="#st" x="588.70" y="63"/><use href="#st" x="588.70" y="64"/><use href="#st" x="588.70" y="65"/><use href="#st" x="588.70" y="66"/><use href="#st" x="588.70" y="67"/><use href="#st" x="588.70" y="68"/><use href="#st" x="588.70" y="69"/><use href="#st" x="588.70" y="70"/><use href="#st" x="588.70" y="71"/><use href="#st" x="588.70" y="72"/><use href="#st" x="588.70" y="73"/><use href="#st" x="588.70" y="74"/><use href="#st" x="588.70" y="75"/><use href="#st" x="588.70" y="76"/><use href="#st" x="588.70" y="77"/><use href="#st" x="588.70" y="78"/><use href="#st" x="588.70" y="79"/><use href="#st" x="588.70" y="80"/><use href="#st" x="588.70" y="81"/><use href="#st" x="588.70" y="82"/><use href="#st" x="588.70" y="83"/><use href="#st" x="588.70" y="84"/><use href="#st" x="588.70" y="85"/><use href="#st" x="588.70" y="86"/><use href="#st" x="588.70" y="87"/><use href="#st" x="588.70" y="88"/><use href="#st" x="588.70" y="89"/><use href="#st" x="588.70" y="90"/><use href="#st" x="588.70" y="91"/><use href="#st" x="588.70" y="92"/><use href="#st" x="588.70" y="93"/><use href="#st" x="588.70" y="94"/><use href="#st" x="588.70" y="95"/><use href="#st" x="588.70" y="96"/>
</g>
<rect x="573.2" y="56.3" width="26.199999999999932" height="26.400000000000006" fill="none" stroke="#1a1418" stroke-width="0.6"/>
<clipPath id="clip3"><rect x="584.7" y="187.1" width="60.799999999999955" height="53.400000000000006"/></clipPath>
<g clip-path="url(#clip3)">
<use href="#stb" x="625.78" y="187"/><use href="#stb" x="625.99" y="188"/><use href="#stb" x="626.19" y="189"/><use href="#stb" x="626.40" y="190"/><use href="#stb" x="626.60" y="191"/><use href="#stb" x="626.80" y="192"/><use href="#stb" x="627.01" y="193"/><use href="#stb" x="627.21" y="194"/><use href="#stb" x="627.42" y="195"/><use href="#stb" x="627.62" y="196"/><use href="#stb" x="627.83" y="197"/><use href="#stb" x="628.03" y="198"/><use href="#stb" x="628.24" y="199"/><use href="#stb" x="628.44" y="200"/><use href="#stb" x="628.65" y="201"/><use href="#stb" x="628.86" y="202"/><use href="#stb" x="629.07" y="203"/><use href="#stb" x="629.28" y="204"/><use href="#stb" x="629.48" y="205"/><use href="#stb" x="629.65" y="206"/><use href="#stb" x="629.78" y="207"/><use href="#stb" x="629.86" y="208"/><use href="#stb" x="629.92" y="209"/><use href="#stb" x="629.96" y="210"/><use href="#stb" x="630.01" y="211"/><use href="#stb" x="630.05" y="212"/><use href="#stb" x="630.07" y="213"/><use href="#stb" x="630.06" y="214"/><use href="#stb" x="630.04" y="215"/><use href="#stb" x="630.01" y="216"/><use href="#stb" x="629.98" y="217"/><use href="#stb" x="629.94" y="218"/><use href="#stb" x="629.88" y="219"/><use href="#stb" x="629.79" y="220"/><use href="#stb" x="629.67" y="221"/><use href="#stb" x="629.53" y="222"/><use href="#stb" x="629.38" y="223"/><use href="#stb" x="629.23" y="224"/><use href="#stb" x="629.08" y="225"/><use href="#stb" x="628.92" y="226"/><use href="#stb" x="628.76" y="227"/><use href="#stb" x="628.60" y="228"/><use href="#stb" x="628.43" y="229"/><use href="#stb" x="628.27" y="230"/><use href="#stb" x="628.10" y="231"/><use href="#stb" x="627.93" y="232"/><use href="#stb" x="627.77" y="233"/><use href="#stb" x="627.60" y="234"/><use href="#stb" x="627.43" y="235"/><use href="#stb" x="627.27" y="236"/><use href="#stb" x="627.10" y="237"/><use href="#stb" x="626.93" y="238"/><use href="#stb" x="626.76" y="239"/><use href="#stb" x="626.59" y="240"/>
</g>
<rect x="603.2" y="200.3" width="26.199999999999932" height="26.399999999999977" fill="none" stroke="#1a1418" stroke-width="0.9"/>
<clipPath id="clip4"><rect x="356.2" y="184.2" width="60.900000000000034" height="53.30000000000001"/></clipPath>
<g clip-path="url(#clip4)">
<use href="#stb" x="362.40" y="184"/><use href="#stb" x="362.40" y="185"/><use href="#stb" x="362.40" y="186"/><use href="#stb" x="362.40" y="187"/><use href="#stb" x="362.40" y="188"/><use href="#stb" x="362.40" y="189"/><use href="#stb" x="362.40" y="190"/><use href="#stb" x="362.40" y="191"/><use href="#stb" x="362.40" y="192"/><use href="#stb" x="362.40" y="193"/><use href="#stb" x="362.40" y="194"/><use href="#stb" x="362.40" y="195"/><use href="#stb" x="362.40" y="196"/><use href="#stb" x="362.40" y="197"/><use href="#stb" x="362.40" y="198"/><use href="#stb" x="362.40" y="199"/><use href="#stb" x="362.40" y="200"/><use href="#stb" x="362.40" y="201"/><use href="#stb" x="362.40" y="202"/><use href="#stb" x="362.40" y="203"/><use href="#stb" x="362.40" y="204"/><use href="#stb" x="362.40" y="205"/><use href="#stb" x="362.40" y="206"/><use href="#stb" x="362.40" y="207"/><use href="#stb" x="362.40" y="208"/><use href="#stb" x="362.40" y="209"/><use href="#stb" x="362.40" y="210"/><use href="#stb" x="362.40" y="211"/><use href="#stb" x="362.40" y="212"/><use href="#stb" x="362.40" y="213"/><use href="#stb" x="362.40" y="214"/><use href="#stb" x="362.40" y="215"/><use href="#stb" x="362.40" y="216"/><use href="#stb" x="362.40" y="217"/><use href="#stb" x="362.40" y="218"/><use href="#stb" x="362.40" y="219"/><use href="#stb" x="362.40" y="220"/><use href="#stb" x="362.40" y="221"/><use href="#stb" x="362.40" y="222"/><use href="#stb" x="362.40" y="223"/><use href="#stb" x="362.40" y="224"/><use href="#stb" x="362.40" y="225"/><use href="#stb" x="362.40" y="226"/><use href="#stb" x="362.40" y="227"/><use href="#stb" x="362.40" y="228"/><use href="#stb" x="362.40" y="229"/><use href="#stb" x="362.40" y="230"/><use href="#stb" x="362.40" y="231"/><use href="#stb" x="362.40" y="232"/><use href="#stb" x="362.40" y="233"/><use href="#stb" x="362.40" y="234"/><use href="#stb" x="362.40" y="235"/><use href="#stb" x="362.40" y="236"/><use href="#stb" x="362.40" y="237"/>
</g>
<rect x="375" y="197.9" width="26.100000000000023" height="26.099999999999994" fill="none" stroke="#1a1418" stroke-width="0.7"/>
<path d="M339.60,298.00 C342.17,297.92 350.18,297.68 355.00,297.50 C359.82,297.32 363.68,297.12 368.50,296.90 C373.32,296.68 378.65,297.02 383.90,296.20 C389.15,295.38 394.58,293.47 400.00,292.00 C405.42,290.53 410.97,289.25 416.40,287.40 C421.83,285.55 426.63,283.93 432.60,280.90 C438.57,277.87 445.82,273.25 452.20,269.20 C458.58,265.15 465.68,260.28 470.90,256.60 C476.12,252.92 479.57,250.25 483.50,247.10 C487.43,243.95 491.20,240.60 494.50,237.70 C497.80,234.80 500.15,232.65 503.30,229.70 C506.45,226.75 510.22,223.23 513.40,220.00 C516.58,216.77 517.38,215.60 522.40,210.30 C527.42,205.00 537.00,195.77 543.50,188.20 C550.00,180.63 555.72,172.30 561.40,164.90 C567.08,157.50 572.08,150.83 577.60,143.80 C583.12,136.77 591.68,126.22 594.50,122.70" fill="none" stroke="#2828f0" stroke-width="1.25"/>
<path d="M383.9,297.9 L404.6,297.8 L415,296.4 L430.7,293.7 L439,288.5 L444.9,282.6 L450.8,273.9 L457.9,257.8 L468.5,238.9 L474.4,220 L477,209 L486.7,170 L494.9,130 L503.2,89 L511.9,40 L515.3,18.7 L515.9,40 L517.4,100 L518.0,119.5 L520.6,124.2 L525,124.2 L534.5,125.4 L538.6,126.9 L539.8,128.9 L540.2,133 L540.8,139.9 L541.9,164.9 L543.7,195 L544.7,214.2 L546.2,219 L551.5,235 L556.5,248.5 L564.6,266.3 L576,283.5 L584,287.8 L600.3,296.3 L611.7,297.2 L625,298.1" fill="none" stroke="#f02a2a" stroke-width="1.05" stroke-linejoin="round"/>
<circle cx="383.9" cy="298.1" r="4.1" fill="#000"/>
<circle cx="503.4" cy="88.9" r="4.4" fill="#000"/>
<circle cx="520.6" cy="124.2" r="4.4" fill="#000"/>
<circle cx="544.7" cy="214.2" r="4.4" fill="#000"/>
<defs><marker id="ah" viewBox="0 0 10 10" refX="9.6" refY="5" markerUnits="userSpaceOnUse" markerWidth="7.6" markerHeight="7.6" orient="auto"><path d="M0,2.5 L10,5 L0,7.5 Z" fill="#000"/></marker><marker id="ah2" viewBox="0 0 10 10" refX="9.6" refY="5" markerUnits="userSpaceOnUse" markerWidth="5.9" markerHeight="5.9" orient="auto"><path d="M0,0.2 L10,5 L0,9.8 L2.2,5 Z" fill="#000"/></marker></defs>
<path d="M474.3,94.2 Q487,93.6 498.2,90.8" fill="none" stroke="#111" stroke-width="0.75" marker-end="url(#ah)"/>
<path d="M551,77 C540,78 532,82 529.2,90 C528.4,95 528.0,103 524.2,115.6" fill="none" stroke="#111" stroke-width="0.75" marker-end="url(#ah)"/>
<path d="M578.9,214.2 H551.5" fill="none" stroke="#111" stroke-width="0.95" marker-end="url(#ah2)"/>
<path d="M384.3,243.3 V289.2" fill="none" stroke="#111" stroke-width="0.95" marker-end="url(#ah2)"/>
<rect x="361.3" y="25.1" width="88.9" height="28.3" fill="#fff" stroke="#1c1c1c" stroke-width="0.9"/>
<path d="M365.8,30.8 H389.9" stroke="#2828f0" stroke-width="1.4"/>
<path d="M365.8,45.9 H389.9" stroke="#f02a2a" stroke-width="1.4"/>
<text transform="translate(392.00 34.30) scale(1 1.0)" font-size="10" text-anchor="start" fill="#0a0a0a" ><tspan font-style="italic" font-size="11.5">ℓ</tspan><tspan font-size="6.5" dy="2">m</tspan><tspan dy="-2">= 3a, sim.</tspan></text>
<text transform="translate(392.00 49.30) scale(1 1.0)" font-size="10" text-anchor="start" fill="#0a0a0a" ><tspan font-style="italic" font-size="11.5">ℓ</tspan><tspan font-size="6.5" dy="2">m</tspan><tspan dy="-2">= 6a, sim.</tspan></text>
<text transform="translate(288.80 11.40) scale(1 1)" font-size="12" text-anchor="start" fill="#0a0a0a" >c</text>
<text transform="translate(435.70 330.90) scale(1 0.92)" font-size="10" text-anchor="start" fill="#0a0a0a" >DW Endpoint Position x<tspan font-size="6" dy="2">DW</tspan><tspan dy="-2" dx="1.5">(</tspan><tspan font-style="italic" font-size="12" dx="1.5">ℓ</tspan><tspan font-size="6.5" dy="2">m</tspan><tspan dy="-2">)</tspan></text>
<g transform="translate(302.0,204.2) rotate(-90) scale(1.02 1.04)" font-size="9.7" fill="#0a0a0a"><text x="0" y="0">Tension Energy (</text><path d="M74.2,-3.1 L75.5,-3.8 L77.3,0.5 L80.1,-8.5 L96.0,-8.5" fill="none" stroke="#0a0a0a" stroke-width="0.6"/><text x="80.6" y="0" font-style="italic" font-family="Liberation Serif, serif" font-size="11">J</text><text x="86.4" y="0">K</text><text x="95.2" y="0">)</text></g></svg>
</body></html>
